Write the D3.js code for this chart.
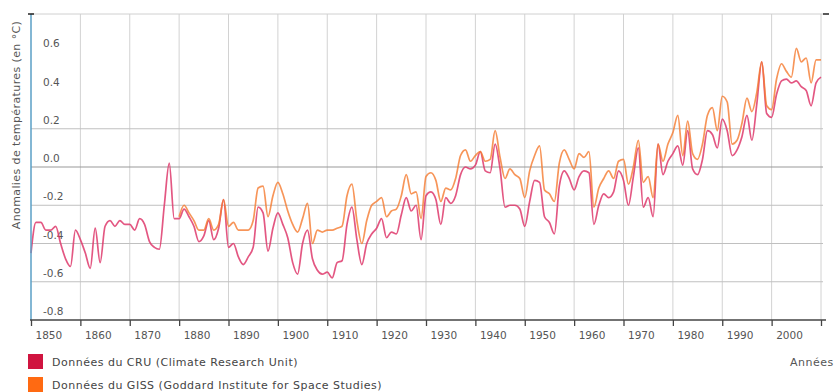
<!DOCTYPE html>
<html lang="fr">
<head>
<meta charset="utf-8">
<script src="https://cdn.jsdelivr.net/npm/d3@7"></script>
<style>
  html, body { margin: 0; padding: 0; background: #fff; }
  svg { display: block; font-family: "DejaVu Sans", Verdana, sans-serif; }
</style>
</head>
<body>
<svg id="chart" width="834" height="392"></svg>
<script>
// Anomalies annuelles de température globale (°C)
const cruStart = 1850;
const cruValues = [
  -0.45, -0.29, -0.29, -0.33, -0.33, -0.31, -0.40, -0.48, -0.52, -0.33, // 1850-1859
  -0.38, -0.45, -0.53, -0.32, -0.50, -0.31, -0.28, -0.31, -0.28, -0.30, // 1860-1869
  -0.30, -0.33, -0.27, -0.30, -0.39, -0.42, -0.43, -0.20,  0.02, -0.27, // 1870-1879
  -0.27, -0.22, -0.26, -0.31, -0.39, -0.36, -0.28, -0.38, -0.32, -0.17, // 1880-1889
  -0.42, -0.40, -0.47, -0.51, -0.47, -0.42, -0.21, -0.24, -0.44, -0.32, // 1890-1899
  -0.24, -0.30, -0.37, -0.50, -0.56, -0.40, -0.33, -0.48, -0.54, -0.56, // 1900-1909
  -0.55, -0.58, -0.50, -0.49, -0.30, -0.21, -0.38, -0.51, -0.40, -0.35, // 1910-1919
  -0.32, -0.27, -0.37, -0.34, -0.35, -0.25, -0.16, -0.23, -0.20, -0.38, // 1920-1929
  -0.15, -0.13, -0.17, -0.30, -0.16, -0.19, -0.15, -0.04,  0.00, -0.01, // 1930-1939
   0.01,  0.08, -0.02, -0.03,  0.12, -0.01, -0.21, -0.20, -0.20, -0.22, // 1940-1949
  -0.31, -0.18, -0.07, -0.08, -0.26, -0.29, -0.35, -0.10, -0.02, -0.06, // 1950-1959
  -0.12, -0.05, -0.02, -0.03, -0.30, -0.20, -0.14, -0.16, -0.13, -0.02, // 1960-1969
  -0.07, -0.20, -0.05,  0.10, -0.21, -0.16, -0.26,  0.12, -0.04,  0.03, // 1970-1979
   0.07,  0.11,  0.01,  0.19, -0.01, -0.04,  0.04,  0.19,  0.17,  0.10, // 1980-1989
   0.25,  0.19,  0.06,  0.09,  0.16,  0.27,  0.14,  0.33,  0.55,  0.28, // 1990-1999
   0.26,  0.38,  0.45,  0.46,  0.44,  0.45,  0.42,  0.40,  0.32,  0.44, // 2000-2009
   0.47                                                                 // 2010
];

const gissStart = 1880;
const gissValues = [
  -0.26, -0.20, -0.24, -0.28, -0.33, -0.33, -0.27, -0.33, -0.30, -0.17, // 1880-1889
  -0.31, -0.29, -0.33, -0.33, -0.33, -0.28, -0.11, -0.10, -0.26, -0.15, // 1890-1899
  -0.08, -0.14, -0.23, -0.30, -0.34, -0.27, -0.19, -0.40, -0.33, -0.34, // 1900-1909
  -0.33, -0.33, -0.32, -0.31, -0.15, -0.09, -0.28, -0.40, -0.28, -0.20, // 1910-1919
  -0.18, -0.16, -0.26, -0.23, -0.22, -0.15, -0.04, -0.14, -0.13, -0.27, // 1920-1929
  -0.05, -0.03, -0.07, -0.18, -0.11, -0.12, -0.06,  0.06,  0.09,  0.03, // 1930-1939
   0.06,  0.08,  0.03,  0.04,  0.19,  0.05, -0.06, -0.01, -0.04, -0.06, // 1940-1949
  -0.16, -0.02,  0.06,  0.11, -0.12, -0.14, -0.18,  0.02,  0.09,  0.04, // 1950-1959
  -0.01,  0.07,  0.05,  0.08, -0.21, -0.11, -0.06, -0.02, -0.06,  0.03, // 1960-1969
   0.04, -0.09,  0.00,  0.14, -0.08, -0.05, -0.16,  0.12,  0.03,  0.12, // 1970-1979
   0.18,  0.27,  0.06,  0.24,  0.07,  0.04,  0.12,  0.27,  0.31,  0.19, // 1980-1989
   0.37,  0.34,  0.12,  0.14,  0.23,  0.36,  0.29,  0.39,  0.55,  0.32, // 1990-1999
   0.30,  0.46,  0.54,  0.50,  0.47,  0.62,  0.55,  0.57,  0.44,  0.56, // 2000-2009
   0.56                                                                 // 2010
];

const decadeTicks = d3.range(1850, 2011, 10);
const labelTicks = d3.range(1850, 2001, 10);
const valueTicks = [0.6, 0.4, 0.2, 0.0, -0.2, -0.4, -0.6, -0.8];
const gridValues = [0.2, 0.0, -0.2, -0.4, -0.6];

const seriesNames = [
  "Données du CRU (Climate Research Unit)",
  "Données du GISS (Goddard Institute for Space Studies)"
];
const yTitle = "Anomalies de températures (en °C)";
const xTitle = "Années";

const cru = cruValues.map((v, i) => ({ year: cruStart + i, value: v }));
const giss = gissValues.map((v, i) => ({ year: gissStart + i, value: v }));

const svg = d3.select("#chart");
const plotLeft = 31, plotRight = 821, plotTop = 14, plotBottom = 320;

const x = d3.scaleLinear().domain([1850, 2010]).range([plotLeft, plotRight]);
const y = d3.scaleLinear().domain([-0.8, 0.8]).range([plotBottom, plotTop]);

// grille verticale
svg.append("g")
  .selectAll("line")
  .data(decadeTicks.slice(1))
  .join("line")
  .attr("x1", d => x(d)).attr("x2", d => x(d))
  .attr("y1", plotTop).attr("y2", plotBottom)
  .attr("stroke", "#d2d2d2").attr("stroke-width", 1);

// bord supérieur
svg.append("line")
  .attr("x1", plotLeft).attr("x2", plotRight + 2)
  .attr("y1", plotTop).attr("y2", plotTop)
  .attr("stroke", "#d0d0d0").attr("stroke-width", 1);

// grille horizontale
svg.append("g")
  .selectAll("line")
  .data(gridValues)
  .join("line")
  .attr("x1", plotLeft).attr("x2", plotRight + 2)
  .attr("y1", d => y(d)).attr("y2", d => y(d))
  .attr("stroke", d => d === 0 ? "#999" : "#c0c0c0")
  .attr("stroke-width", 1);

// étiquettes de l'axe vertical (à l'intérieur du tracé)
svg.append("g")
  .selectAll("text")
  .data(valueTicks)
  .join("text")
  .attr("x", 43)
  .attr("y", d => y(d) - 5)
  .attr("font-size", 10.5)
  .attr("fill", "#555")
  .text(d => d.toFixed(1));

// courbes
const line = d3.line()
  .x(d => x(d.year))
  .y(d => y(d.value))
  .curve(d3.curveMonotoneX);

svg.append("path")
  .datum(cru)
  .attr("d", line)
  .attr("fill", "none")
  .attr("stroke", "#de3a6c")
  .attr("stroke-opacity", 0.85)
  .attr("stroke-width", 1.7)
  .attr("stroke-linejoin", "round");

svg.append("path")
  .datum(giss)
  .attr("d", line)
  .attr("fill", "none")
  .attr("stroke", "#f57a30")
  .attr("stroke-opacity", 0.8)
  .attr("stroke-width", 1.7)
  .attr("stroke-linejoin", "round");

// axe vertical
svg.append("line")
  .attr("x1", plotLeft).attr("x2", plotLeft)
  .attr("y1", plotTop).attr("y2", plotBottom)
  .attr("stroke", "#5a9fc6").attr("stroke-width", 1.5);
svg.append("line")
  .attr("x1", plotLeft - 3).attr("x2", plotLeft + 3)
  .attr("y1", plotTop).attr("y2", plotTop)
  .attr("stroke", "#222").attr("stroke-width", 1.5);
svg.append("line")
  .attr("x1", plotRight + 2).attr("x2", plotRight + 8)
  .attr("y1", plotTop).attr("y2", plotTop)
  .attr("stroke", "#222").attr("stroke-width", 1.5);

// axe horizontal
const xAxis = d3.axisBottom(x)
  .tickValues(decadeTicks)
  .tickSize(6)
  .tickFormat(d => labelTicks.includes(d) ? String(d) : "");

const gx = svg.append("g")
  .attr("transform", `translate(0,${plotBottom})`)
  .call(xAxis);
gx.select(".domain").remove();
gx.selectAll(".tick line").attr("stroke", "#444").attr("stroke-width", 1.3);
gx.selectAll(".tick text")
  .attr("text-anchor", "start")
  .attr("x", 4)
  .attr("y", 12)
  .attr("font-family", "DejaVu Sans, Verdana, sans-serif")
  .attr("font-size", 10.5)
  .attr("fill", "#555");
svg.append("line")
  .attr("x1", plotLeft - 1).attr("x2", plotRight + 5)
  .attr("y1", plotBottom).attr("y2", plotBottom)
  .attr("stroke", "#444").attr("stroke-width", 1.6);

// titres des axes
svg.append("text")
  .attr("transform", `translate(20,${(plotTop + 236) / 2}) rotate(-90)`)
  .attr("text-anchor", "middle")
  .attr("font-size", 11)
  .attr("letter-spacing", 0.4)
  .attr("fill", "#555")
  .text(yTitle);

svg.append("text")
  .attr("x", 790)
  .attr("y", 366)
  .attr("font-size", 11)
  .attr("letter-spacing", 0.5)
  .attr("fill", "#555")
  .text(xTitle);

// légende
const legendColors = ["#d0143f", "#ff6a12"];
const legend = svg.append("g")
  .selectAll("g")
  .data(seriesNames)
  .join("g")
  .attr("transform", (d, i) => `translate(28,${354 + i * 23})`);
legend.append("rect")
  .attr("width", 15).attr("height", 15)
  .attr("fill", (d, i) => legendColors[i]);
legend.append("text")
  .attr("x", 24).attr("y", 11.5)
  .attr("font-size", 11)
  .attr("letter-spacing", 0.5)
  .attr("fill", "#444")
  .text(d => d);
</script>
</body>
</html>
